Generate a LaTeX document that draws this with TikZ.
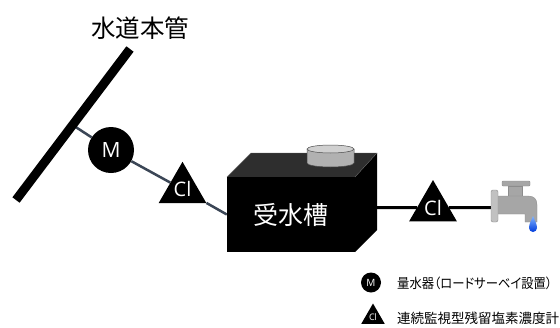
\documentclass[tikz,border=0pt]{standalone}
\usepackage{fontspec}
\setmainfont{Open Sans}
\newfontfamily\jp{Noto Sans CJK JP}
\newfontfamily\jpp[RawFeature=+palt]{Noto Sans CJK JP}
\usetikzlibrary{shapes.geometric,backgrounds}
\definecolor{slate}{HTML}{3B4656}
\definecolor{tapgray}{HTML}{A6A6A6}
\definecolor{tapedge}{HTML}{8C8C8C}
\definecolor{lidgray}{HTML}{D0D0D0}
\definecolor{tanktop}{HTML}{2E2E2E}
\tikzset{
  meter/.style={circle,fill=black,text=white,inner sep=0pt,minimum size=46pt,font=\fontsize{21}{21}\selectfont},
  chlorine/.style={regular polygon,regular polygon sides=3,fill=black,text=white,inner sep=0pt,minimum size=55pt,font=\fontsize{20}{20}\selectfont},
  legmeter/.style={circle,fill=black,text=white,inner sep=0pt,minimum size=20pt,font=\fontsize{10}{10}\selectfont},
  legchlorine/.style={regular polygon,regular polygon sides=3,fill=black,text=white,inner sep=0pt,minimum size=27pt,font=\fontsize{9}{9}\selectfont},
  pipe/.style={slate,line width=2.5pt},
  outpipe/.style={black,line width=3pt},
  legtext/.style={anchor=west,inner sep=0pt,font=\fontsize{13.5}{13.5}\selectfont},
  tappart/.style={fill=tapgray,draw=tapedge,line width=0.4pt}
}
\begin{document}
\begin{tikzpicture}[x=1pt,y=-1pt]
\useasboundingbox (0,0) rectangle (560,327);

% water main
\coordinate (mainA) at (16,200);
\coordinate (mainB) at (130,49);
\coordinate (branch) at (72.6,125);
\draw[line width=9pt] (mainA) -- (mainB);
\node[font=\jp\fontsize{24.5}{24.5}\selectfont] (title) at (140,28) {水道本管};

% receiving tank
\fill[tanktop] (227,177) -- (251,153) -- (377,153) -- (355,177) -- cycle;
\fill[black] (355,177) -- (377,153) -- (377,230) -- (355,252) -- cycle;
\draw[black!60,line width=0.4pt] (227,177) -- (251,153) -- (377,153) -- (355,177);
\node[rectangle,fill=black,text=white,minimum width=128pt,minimum height=75pt,inner sep=0pt,
      font=\jp\fontsize{25}{25}\selectfont] (tank) at (291,214.5) {受水槽};
% manhole lid
\fill[lidgray!85!black] (307,149) -- (307,163) arc[start angle=180,end angle=360,x radius=23.5pt,y radius=4pt] -- (354,149) -- cycle;
\draw[black!70,line width=0.5pt] (307,149) -- (307,163) arc[start angle=180,end angle=360,x radius=23.5pt,y radius=4pt] -- (354,149);
\filldraw[fill=lidgray,draw=black!70,line width=0.5pt] (330.5,149) ellipse[x radius=23.5pt,y radius=4pt];

% meter and chlorine analysers
\node[meter] (M) at (111,150) {M};
\node[chlorine] (cl1) at (182.5,189.3) {Cl};
\node[chlorine] (cl2) at (433,207.5) {Cl};

% faucet
\coordinate (tap) at (492,207.5);
\draw[tappart,rounded corners=1pt] (502,181) rectangle (530,186);
\draw[tappart] (508,186) rectangle (522,197);
\draw[tappart] (497,196) -- (528,196) .. controls (534,196) and (537,199) .. (537,205) -- (537,222) -- (525,222) -- (525,214) -- (497,214) -- cycle;
\draw[fill=tapgray!70!white,draw=tapedge,line width=0.4pt,rounded corners=2pt] (491,190) rectangle (498,222);
\shade[top color={rgb,255:red,130;green,180;blue,255},bottom color={rgb,255:red,0;green,60;blue,220}]
  (533,216) .. controls (531,221) and (529,224) .. (529,228)
  arc[start angle=180,end angle=360,radius=4pt]
  .. controls (537,224) and (535,221) .. (533,216) -- cycle;

% pipes, laid under the fittings
\begin{pgfonlayer}{background}
\fill[white] (0,0) rectangle (560,327);
\draw[pipe] (branch) -- (M) -- (cl1) -- (tank.west);
\draw[outpipe] (tank.east |- cl2) -- (cl2) -- (tap);
\end{pgfonlayer}

% legend
\node[legmeter] (lm) at (371,282.5) {M};
\node[legtext] (lmt) at (397,283) {\resizebox{155pt}{\height}{\jpp 量水器（ロードサーベイ設置）}};
\node[legchlorine] (lc) at (373,317) {Cl};
\node[legtext] (lct) at (397,318) {\jp 連続監視型残留塩素濃度計};
\end{tikzpicture}
\end{document}
